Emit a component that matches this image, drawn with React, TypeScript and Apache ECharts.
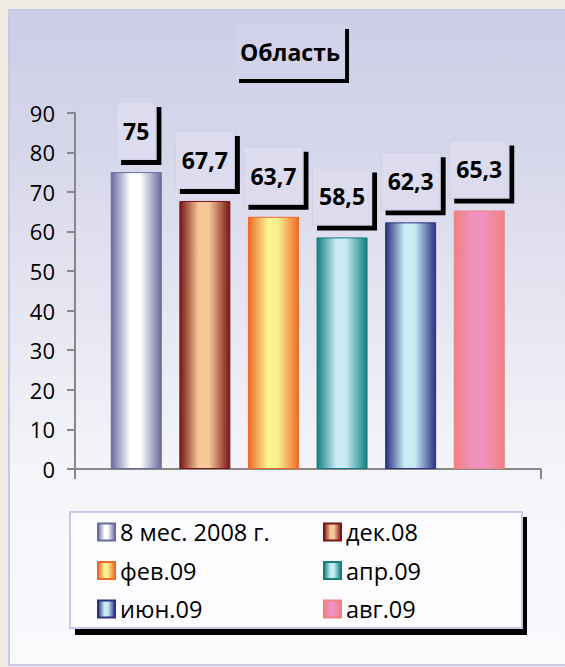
import React, { useEffect, useRef } from 'react';
import * as echarts from 'echarts';

const categories = [''];
const seriesNames = ['8 мес. 2008 г.', 'дек.08', 'фев.09', 'апр.09', 'июн.09', 'авг.09'];
const seriesValues = [75, 67.7, 63.7, 58.5, 62.3, 65.3];
const yMin = 0;
const yMax = 90;
const yInterval = 10;
const titleText = 'Область';

const edgeColors = ['#6b6b9f', '#7a1616', '#f06a28', '#138080', '#2a3282', '#f08080'];
const centerColors = ['#ffffff', '#f8c898', '#f8f290', '#c8eaf0', '#c8ecf4', '#f092c0'];

const FONT = "'Open Sans', 'Noto Sans', sans-serif";

function barGradient(i: number) {
  return new echarts.graphic.LinearGradient(0, 0, 1, 0, [
    { offset: 0, color: edgeColors[i] },
    { offset: 0.38, color: centerColors[i] },
    { offset: 0.58, color: centerColors[i] },
    { offset: 1, color: edgeColors[i] },
  ]);
}

export default function App() {
  const ref = useRef<HTMLDivElement>(null);
  useEffect(() => {
    if (!ref.current) return;
    const chart = echarts.init(ref.current, undefined, { renderer: 'svg' });
    const series = seriesNames.map((name, i) => ({
      type: 'bar',
      name,
      data: [seriesValues[i]],
      barWidth: 51,
      barGap: '34.5%',
      itemStyle: { color: barGradient(i), borderColor: edgeColors[i], borderWidth: 1 },
      label: {
        show: true,
        position: 'top',
        distance: 13,
        formatter: (p: any) => String(p.value).replace('.', ','),
        fontFamily: FONT,
        fontWeight: 'bold',
        fontSize: 23,
        lineHeight: 30,
        color: '#000',
        backgroundColor: '#dcdcee',
        borderColor: '#d0d0e6',
        borderWidth: 1,
        padding: [13, 6],
        shadowColor: '#000',
        shadowBlur: 0,
        shadowOffsetX: 5,
        shadowOffsetY: 5,
      },
    }));
    const legendCommon = {
      orient: 'vertical',
      top: 520,
      padding: 0,
      itemWidth: 17,
      itemHeight: 17,
      itemGap: 14.5,
      icon: 'rect',
      textStyle: { fontFamily: FONT, fontSize: 23.5, lineHeight: 23, color: '#000' },
      itemStyle: { borderWidth: 2 },
    };
    chart.setOption({
      animation: false,
      backgroundColor: '#f1ece3',
      title: {
        text: titleText,
        left: 235,
        top: 25,
        padding: [12, 5],
        backgroundColor: '#d2d2ea',
        shadowColor: '#000',
        shadowBlur: 0,
        shadowOffsetX: 4,
        shadowOffsetY: 4,
        textStyle: { fontFamily: FONT, fontWeight: 'bold', fontSize: 23, lineHeight: 30, color: '#000' },
      },
      graphic: [
        {
          type: 'rect',
          z: -10,
          shape: { x: 9, y: 10, width: 620, height: 655 },
          style: {
            fill: new echarts.graphic.LinearGradient(0, 0, 0, 1, [
              { offset: 0, color: '#cccce6' },
              { offset: 0.22, color: '#d7d7eb' },
              { offset: 0.56, color: '#ececf5' },
              { offset: 0.72, color: '#f5f5fa' },
              { offset: 1, color: '#fafafd' },
            ]),
            stroke: '#c8c8e8',
            lineWidth: 2,
          },
        },
        {
          type: 'rect',
          z: 1,
          shape: { x: 75, y: 517, width: 452, height: 118 },
          style: { fill: '#000' },
        },
        {
          type: 'rect',
          z: 2,
          shape: { x: 70, y: 512, width: 452, height: 116 },
          style: { fill: '#fcfcff', stroke: '#c8c8e8', lineWidth: 2 },
        },
      ],
      legend: [
        { ...legendCommon, left: 97, data: [seriesNames[0], seriesNames[2], seriesNames[4]] },
        { ...legendCommon, left: 323, data: [seriesNames[1], seriesNames[3], seriesNames[5]] },
      ],
      grid: { left: 75, right: 24.5, top: 112.7, bottom: 198, containLabel: false },
      xAxis: {
        type: 'category',
        data: categories,
        axisLine: { lineStyle: { color: '#888888', width: 2 } },
        axisTick: { show: true, length: 10, lineStyle: { color: '#888888', width: 2 } },
        axisLabel: { show: false },
      },
      yAxis: {
        type: 'value',
        min: yMin,
        max: yMax,
        interval: yInterval,
        axisLine: { show: true, lineStyle: { color: '#888888', width: 2 } },
        axisTick: { show: true, length: 8, lineStyle: { color: '#888888', width: 2 } },
        splitLine: { show: false },
        axisLabel: { fontFamily: FONT, fontSize: 22, color: '#000', margin: 20 },
      },
      series,
    });
    return () => chart.dispose();
  }, []);
  return (
    <div style={{ position: 'fixed', left: 0, top: 0, width: 565, height: 667 }}>
      <div ref={ref} style={{ width: 565, height: 667 }} />
    </div>
  );
}
